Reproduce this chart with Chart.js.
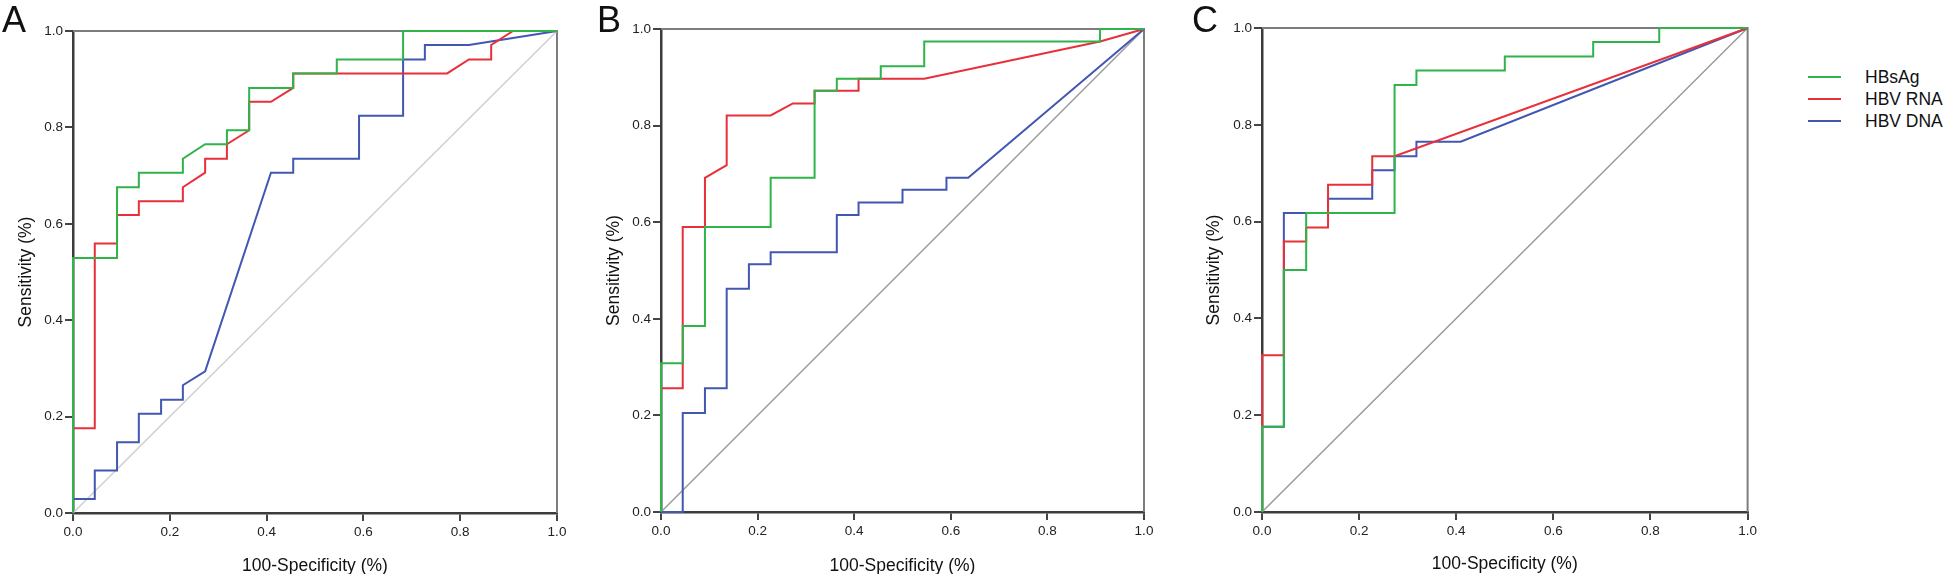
<!DOCTYPE html>
<html>
<head>
<meta charset="utf-8">
<script src="https://cdn.jsdelivr.net/npm/chart.js@4.4.0/dist/chart.umd.min.js"></script>
<style>
  body { margin: 0; background: #fff; width: 1946px; height: 574px; position: relative; overflow: hidden;
         font-family: Arial, "Liberation Sans", sans-serif; color: #111; }
  canvas { position: absolute; top: 0; }
  .letter { position: absolute; top: 2px; font-size: 36px; line-height: 36px; }
  .legend { position: absolute; left: 1808px; top: 66px; font-size: 17.5px; }
  .legend div { height: 22px; line-height: 22px; position: relative; padding-left: 57px; }
  .legend span { position: absolute; left: 0; top: 10px; width: 33px; height: 2px; }
</style>
</head>
<body>
<canvas id="chartA" width="580" height="574" style="left:0px"></canvas>
<canvas id="chartB" width="580" height="574" style="left:590px"></canvas>
<canvas id="chartC" width="580" height="574" style="left:1180px"></canvas>
<div class="letter" style="left:2px">A</div>
<div class="letter" style="left:597px">B</div>
<div class="letter" style="left:1192px">C</div>
<div class="legend" id="legend"></div>
<script>
const seriesNames = ['HBsAg', 'HBV RNA', 'HBV DNA'];
const seriesColors = ['#2fb34a', '#e8303a', '#4257b2'];
const tickValues = [0, 0.2, 0.4, 0.6, 0.8, 1.0];
const tickLabels = ['0.0', '0.2', '0.4', '0.6', '0.8', '1.0'];
const diagX = [0, 1];
const diagY = [0, 1];

// panel A
const aGreenX = [0, 0, 0.091, 0.091, 0.136, 0.136, 0.227, 0.227, 0.273, 0.318, 0.318, 0.364, 0.364, 0.455, 0.455, 0.545, 0.545, 0.682, 0.682, 1];
const aGreenY = [0, 0.529, 0.529, 0.676, 0.676, 0.706, 0.706, 0.735, 0.765, 0.765, 0.794, 0.794, 0.882, 0.882, 0.912, 0.912, 0.941, 0.941, 1, 1];
const aRedX = [0, 0, 0.045, 0.045, 0.091, 0.091, 0.136, 0.136, 0.227, 0.227, 0.273, 0.273, 0.318, 0.318, 0.364, 0.364, 0.409, 0.455, 0.455, 0.773, 0.818, 0.864, 0.864, 0.909, 1];
const aRedY = [0, 0.176, 0.176, 0.559, 0.559, 0.618, 0.618, 0.647, 0.647, 0.676, 0.706, 0.735, 0.735, 0.765, 0.794, 0.853, 0.853, 0.882, 0.912, 0.912, 0.941, 0.941, 0.971, 1, 1];
const aBlueX = [0, 0, 0.045, 0.045, 0.091, 0.091, 0.136, 0.136, 0.182, 0.182, 0.227, 0.227, 0.273, 0.409, 0.455, 0.455, 0.591, 0.591, 0.682, 0.682, 0.727, 0.727, 0.818, 1];
const aBlueY = [0, 0.029, 0.029, 0.088, 0.088, 0.147, 0.147, 0.206, 0.206, 0.235, 0.235, 0.265, 0.294, 0.706, 0.706, 0.735, 0.735, 0.824, 0.824, 0.941, 0.941, 0.971, 0.971, 1];

// panel B
const bGreenX = [0, 0, 0.045, 0.045, 0.091, 0.091, 0.227, 0.227, 0.318, 0.318, 0.364, 0.364, 0.455, 0.455, 0.545, 0.545, 0.909, 0.909, 1];
const bGreenY = [0, 0.308, 0.308, 0.385, 0.385, 0.590, 0.590, 0.692, 0.692, 0.872, 0.872, 0.897, 0.897, 0.923, 0.923, 0.974, 0.974, 1, 1];
const bRedX = [0, 0, 0.045, 0.045, 0.091, 0.091, 0.136, 0.136, 0.227, 0.273, 0.318, 0.318, 0.409, 0.409, 0.545, 0.909, 1];
const bRedY = [0, 0.256, 0.256, 0.590, 0.590, 0.692, 0.718, 0.821, 0.821, 0.846, 0.846, 0.872, 0.872, 0.897, 0.897, 0.974, 1];
const bBlueX = [0, 0.045, 0.045, 0.091, 0.091, 0.136, 0.136, 0.182, 0.182, 0.227, 0.227, 0.364, 0.364, 0.409, 0.409, 0.5, 0.5, 0.591, 0.591, 0.636, 1];
const bBlueY = [0, 0, 0.205, 0.205, 0.256, 0.256, 0.462, 0.462, 0.513, 0.513, 0.538, 0.538, 0.615, 0.615, 0.641, 0.641, 0.667, 0.667, 0.692, 0.692, 1];

// panel C
const cGreenX = [0, 0, 0.045, 0.045, 0.091, 0.091, 0.273, 0.273, 0.318, 0.318, 0.5, 0.5, 0.682, 0.682, 0.818, 0.818, 1];
const cGreenY = [0, 0.176, 0.176, 0.5, 0.5, 0.618, 0.618, 0.882, 0.882, 0.912, 0.912, 0.941, 0.941, 0.971, 0.971, 1, 1];
const cRedX = [0, 0, 0.045, 0.045, 0.091, 0.091, 0.136, 0.136, 0.227, 0.227, 0.273, 1];
const cRedY = [0, 0.324, 0.324, 0.559, 0.559, 0.588, 0.588, 0.676, 0.676, 0.735, 0.735, 1];
const cBlueX = [0, 0, 0.045, 0.045, 0.136, 0.136, 0.227, 0.227, 0.273, 0.273, 0.318, 0.318, 0.409, 1];
const cBlueY = [0, 0.176, 0.176, 0.618, 0.618, 0.647, 0.647, 0.706, 0.706, 0.735, 0.735, 0.765, 0.765, 1];

const FONT = 'Arial, "Liberation Sans", sans-serif';

function pts(xs, ys) {
    return xs.map((x, i) => ({ x, y: ys[i] }));
}

// top and right edges of the plot box
const framePlugin = {
    id: 'frame',
    beforeDatasetsDraw(chart) {
        const { ctx, chartArea: a } = chart;
        ctx.save();
        ctx.strokeStyle = '#7d7d7d';
        ctx.lineWidth = 2;
        ctx.beginPath();
        ctx.moveTo(a.left, a.top);
        ctx.lineTo(a.right, a.top);
        ctx.lineTo(a.right, a.bottom);
        ctx.stroke();
        ctx.restore();
    }
};

function makePanel(id, curves, diagColor, box) {
    const datasets = curves.map((c, i) => ({
        label: seriesNames[i],
        data: pts(c[0], c[1]),
        borderColor: seriesColors[i],
        borderWidth: 2,
        showLine: true,
        pointRadius: 0,
        tension: 0,
        clip: 3
    }));
    datasets.push({
        label: 'reference',
        data: pts(diagX, diagY),
        borderColor: diagColor,
        borderWidth: 1.5,
        showLine: true,
        pointRadius: 0,
        clip: 3
    });

    const axisCommon = {
        type: 'linear',
        min: 0,
        max: 1,
        afterBuildTicks: s => { s.ticks = tickValues.map(v => ({ value: v })); },
        grid: { drawOnChartArea: false, drawTicks: true, tickLength: 8, color: '#444', lineWidth: 2 },
        border: { display: true, color: '#3c3c3c', width: 2.5 }
    };

    new Chart(document.getElementById(id), {
        type: 'scatter',
        data: { datasets },
        plugins: [framePlugin],
        options: {
            responsive: false,
            animation: false,
            layout: { padding: { left: 0, right: box.right, top: box.top, bottom: 0 } },
            plugins: { legend: { display: false }, tooltip: { enabled: false } },
            scales: {
                x: {
                    ...axisCommon,
                    position: 'bottom',
                    afterFit: s => { s.height = box.xH; },
                    ticks: { color: '#222', font: { family: FONT, size: 13.5 }, padding: 3, maxRotation: 0,
                             callback: (v, i) => tickLabels[i] },
                    title: { display: true, text: '100-Specificity (%)', color: '#111',
                             font: { family: FONT, size: 17.5, lineHeight: 1 }, padding: { bottom: box.xTitle } }
                },
                y: {
                    ...axisCommon,
                    position: 'left',
                    afterFit: s => { s.width = box.yW; },
                    ticks: { color: '#222', font: { family: FONT, size: 13.5 }, padding: 2,
                             callback: (v, i) => tickLabels[i] },
                    title: { display: true, text: 'Sensitivity (%)', color: '#111',
                             font: { family: FONT, size: 17.5, lineHeight: 1 }, padding: { top: box.yTitle } }
                }
            }
        }
    });
}

makePanel('chartA', [[aGreenX, aGreenY], [aRedX, aRedY], [aBlueX, aBlueY]], '#cfcfcf',
    { yW: 73, xH: 61, right: 23, top: 31, xTitle: -1, yTitle: 17 });
makePanel('chartB', [[bGreenX, bGreenY], [bRedX, bRedY], [bBlueX, bBlueY]], '#9a9a9a',
    { yW: 71, xH: 62, right: 26, top: 29, xTitle: -1, yTitle: 15 });
makePanel('chartC', [[cGreenX, cGreenY], [cRedX, cRedY], [cBlueX, cBlueY]], '#9a9a9a',
    { yW: 82, xH: 62, right: 12, top: 28, xTitle: 1, yTitle: 25 });

const legend = document.getElementById('legend');
seriesNames.forEach((name, i) => {
    const row = document.createElement('div');
    const sw = document.createElement('span');
    sw.style.background = seriesColors[i];
    row.appendChild(sw);
    row.appendChild(document.createTextNode(name));
    legend.appendChild(row);
});
</script>
</body>
</html>
